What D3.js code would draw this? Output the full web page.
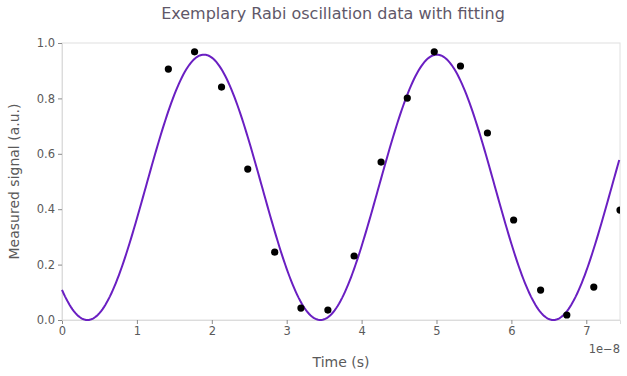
<!DOCTYPE html>
<html><head><meta charset="utf-8">
<script src="https://cdn.jsdelivr.net/npm/d3@7"></script>
<style>body{margin:0;background:#fff}svg{display:block}text{font-family:"DejaVu Sans",sans-serif}</style>
</head><body>
<script>
// Data (time in units of 1e-8 s)
const timeValues = [1.42,1.77,2.13,2.48,2.84,3.19,3.55,3.90,4.26,4.61,4.97,5.32,5.68,6.03,6.39,6.74,7.10,7.45];
const signalValues = [0.906,0.968,0.841,0.545,0.245,0.043,0.036,0.231,0.570,0.801,0.968,0.917,0.675,0.361,0.108,0.018,0.119,0.397];
const xTicks = [0,1,2,3,4,5,6,7];
const yTicks = [0,0.2,0.4,0.6,0.8,1.0];
// Fit parameters: y = offset - amp*cos(2π (t - tMin)/period)
const fitOffset = 0.479, fitAmp = 0.479, fitPeriod = 3.11, fitTMin = 0.34;

const W=627,H=376, m={l:62,r:7,t:43,b:56};
const svg=d3.select("body").append("svg").attr("width",W).attr("height",H);
const x=d3.scaleLinear().domain([0,7.45]).range([m.l,W-m.r]);
const y=d3.scaleLinear().domain([0,1]).range([H-m.b,m.t]);
const txt="#5a5a5a";

svg.append("text").attr("x",333).attr("y",19).attr("text-anchor","middle")
  .attr("font-size",16).attr("fill","#5f5869").text("Exemplary Rabi oscillation data with fitting");

// frame
svg.append("rect").attr("x",x(0)).attr("y",y(1)).attr("width",x(7.45)-x(0)).attr("height",y(0)-y(1))
  .attr("fill","none").attr("stroke","#e0e0e0").attr("stroke-width",1);

const gx=svg.append("g").attr("transform",`translate(0,${y(0)})`)
  .call(d3.axisBottom(x).tickValues(xTicks).tickFormat(d3.format("d")).tickSize(4).tickPadding(3));
const gy=svg.append("g").attr("transform",`translate(${x(0)},0)`)
  .call(d3.axisLeft(y).tickValues(yTicks).tickFormat(d3.format(".1f")).tickSize(4).tickPadding(3));
[gx,gy].forEach(g=>{
  g.select(".domain").attr("stroke","#dcdcdc");
  g.selectAll(".tick line").attr("stroke","#8a8a8a");
  g.selectAll(".tick text").attr("fill",txt).attr("font-size",11.5).attr("font-family","DejaVu Sans");
});

svg.append("text").attr("x",620).attr("y",353).attr("text-anchor","end").attr("font-size",11.5).attr("fill",txt).text("1e\u22128");
svg.append("text").attr("x",341).attr("y",367).attr("text-anchor","middle").attr("font-size",14).attr("fill",txt).text("Time (s)");
svg.append("text").attr("transform",`translate(19,${(y(0)+y(1))/2}) rotate(-90)`).attr("text-anchor","middle")
  .attr("font-size",14).attr("fill",txt).text("Measured signal (a.u.)");

const clip=svg.append("clipPath").attr("id","c").append("rect")
  .attr("x",x(0)).attr("y",y(1)-10).attr("width",x(7.45)-x(0)).attr("height",y(0)-y(1)+10);

const fitT=d3.range(0,7.4501,0.02);
const line=d3.line().x(d=>x(d)).y(d=>y(fitOffset-fitAmp*Math.cos(2*Math.PI*(d-fitTMin)/fitPeriod)));
svg.append("path").datum(fitT).attr("d",line).attr("fill","none").attr("stroke","#6a1fc2").attr("stroke-width",2);

svg.append("g").attr("clip-path","url(#c)").selectAll("circle").data(timeValues).join("circle")
  .attr("cx",d=>x(d)).attr("cy",(d,i)=>y(signalValues[i])).attr("r",3.6).attr("fill","#000");
</script>
</body></html>
